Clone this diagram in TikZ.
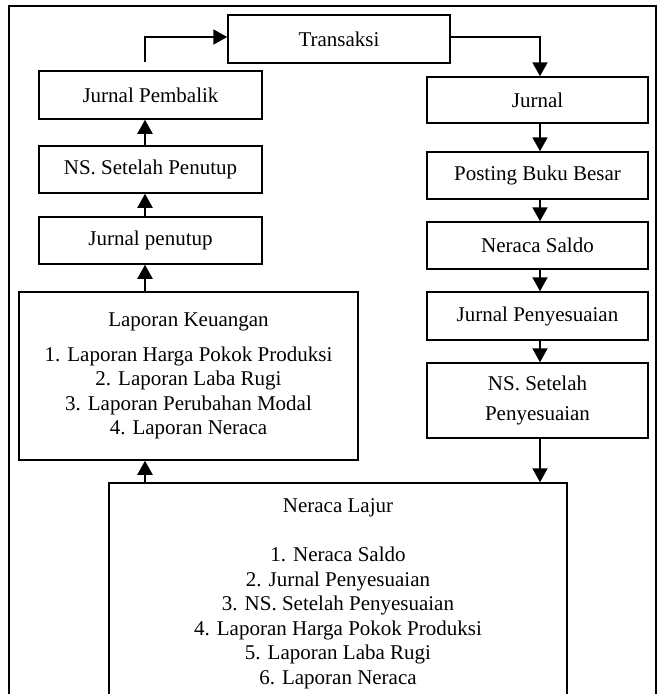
\documentclass[tikz,border=0pt]{standalone}
\usepackage{fontspec}
\setmainfont{Liberation Serif}
\usetikzlibrary{arrows.meta}

\begin{document}
\begin{tikzpicture}[x = 1pt, y = -1pt,
		kotak/.style = {draw, line width = 1.5pt, inner sep = 0pt, align = center, font = \fontsize{21}{24.6}\selectfont},
		panah/.style = {line width = 2pt, -{Triangle[length = 14pt, width = 15pt]}}]
					\useasboundingbox (0, 0) rectangle (664, 694);

					\draw [line width = 1.8pt] (9, 6) rectangle (656, 720);

					\node [kotak, minimum width = 222pt, minimum height = 48pt] (T) at (339, 39) {Transaksi};

					\node [kotak, minimum width = 223pt, minimum height = 48pt] (JPb) at (150.5, 95) {Jurnal Pembalik};
					\node [kotak, minimum width = 223pt, minimum height = 47pt] (NSPt) at (150.5, 169.5) {NS. Setelah Penutup};
					\node [kotak, minimum width = 223pt, minimum height = 47pt] (JPt) at (150.5, 240.5) {Jurnal penutup};
					\node [kotak, minimum width = 339pt, minimum height = 168pt] (LK) at (188.5, 376) {Laporan Keuangan\\[10pt]
						1. Laporan Harga Pokok Produksi\\
						2. Laporan Laba Rugi\\
						3. Laporan Perubahan Modal\\
						4. Laporan Neraca};

					\node [kotak, minimum width = 221pt, minimum height = 46pt] (J) at (537.5, 100) {Jurnal};
					\node [kotak, minimum width = 221pt, minimum height = 47pt] (PBB) at (537.5, 175.5) {Posting Buku Besar};
					\node [kotak, minimum width = 221pt, minimum height = 47pt] (NS) at (537.5, 245.5) {Neraca Saldo};
					\node [kotak, minimum width = 221pt, minimum height = 48pt] (JPy) at (537.5, 316) {Jurnal Penyesuaian};
					\node [kotak, minimum width = 221pt, minimum height = 75pt] (NSPy) at (537.5, 400.5) {NS. Setelah\\[5pt] Penyesuaian};

					\node [kotak, minimum width = 458pt, minimum height = 222pt] (NL) at (338, 594) {Neraca Lajur\\[24pt]
						1. Neraca Saldo\\
						2. Jurnal Penyesuaian\\
						3. NS. Setelah Penyesuaian\\
						4. Laporan Harga Pokok Produksi\\
						5. Laporan Laba Rugi\\
						6. Laporan Neraca};

					\coordinate (kiri) at (145, 0);
					\coordinate (kanan) at (540, 0);
					\coordinate (mulai) at (145, 62);

					\draw [panah] (mulai) |- (T.west |- 0, 37);
					\draw [panah] (T.east |- 0, 37) -| (J.north -| kanan);

					\draw [panah] (J.south -| kanan) -- (PBB.north -| kanan);
					\draw [panah] (PBB.south -| kanan) -- (NS.north -| kanan);
					\draw [panah] (NS.south -| kanan) -- (JPy.north -| kanan);
					\draw [panah] (JPy.south -| kanan) -- (NSPy.north -| kanan);
					\draw [panah] (NSPy.south -| kanan) -- (NL.north -| kanan);

					\draw [panah] (NL.north -| kiri) -- (LK.south -| kiri);
					\draw [panah] (LK.north -| kiri) -- (JPt.south -| kiri);
					\draw [panah] (JPt.north -| kiri) -- (NSPt.south -| kiri);
					\draw [panah] (NSPt.north -| kiri) -- (JPb.south -| kiri);
				\end{tikzpicture}
\end{document}
